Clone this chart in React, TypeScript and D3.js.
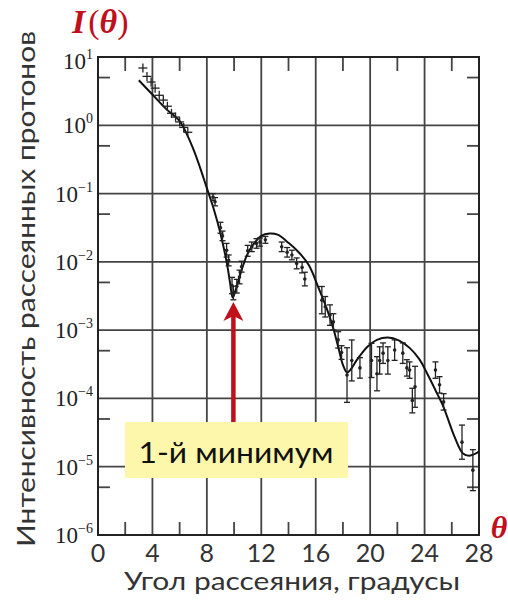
import React from "react";
import * as d3 from "d3";

// theory curve (angle in degrees, intensity)
const curveTheta = [3.0, 4.0, 5.0, 6.0, 6.5, 7.0, 7.5, 8.0, 8.5, 9.0, 9.5, 9.7, 9.9, 10.1, 10.4, 10.7, 11.0, 11.4, 12.0, 12.6, 13.2, 14.0, 14.8, 15.5, 16.2, 16.8, 17.3, 17.7, 18.0, 18.3, 18.6, 19.0, 19.4, 19.8, 20.5, 21.3, 22.1, 22.9, 23.6, 24.2, 24.8, 25.4, 26.2, 26.8, 27.3, 28.0];
const curveI = [4.57, 2.82, 1.74, 1.15, 0.76, 0.45, 0.24, 0.12, 0.06, 0.026, 0.0089, 0.005, 0.003, 0.0038, 0.006, 0.0093, 0.0132, 0.0178, 0.024, 0.026, 0.025, 0.019, 0.0135, 0.0089, 0.0042, 0.0021, 0.00105, 0.00052, 0.00031, 0.00024, 0.00027, 0.00036, 0.00046, 0.00057, 0.00072, 0.00078, 0.00071, 0.00055, 0.00038, 0.00023, 0.000132, 0.000074, 0.0000275, 0.0000158, 0.0000145, 0.0000166];

// small-angle measurements (crosses)
const crossTheta = [3.3, 3.6, 3.9, 4.2, 4.5, 4.8, 5.1, 5.4, 5.7, 6.0, 6.3, 6.6];
const crossI = [6.9, 5.2, 4.3, 3.5, 2.75, 2.34, 1.9, 1.5, 1.32, 1.12, 0.93, 0.79];

// measurements with error bars (err in decades)
const ptTheta = [8.45, 8.6, 9.0, 9.15, 9.45, 9.6, 9.85, 9.95, 10.2, 10.4, 10.55, 11.0, 11.3, 11.65, 11.9, 12.3, 13.5, 13.9, 14.25, 14.6, 15.0, 15.2, 16.45, 16.7, 17.05, 17.3, 17.65, 17.9, 18.3, 18.65, 19.25, 20.1, 20.5, 20.7, 20.95, 21.3, 21.8, 22.4, 22.7, 22.9, 23.1, 23.3, 24.8, 25.1, 25.4, 26.75, 27.55];
const ptI = [0.089, 0.076, 0.0316, 0.024, 0.0148, 0.0105, 0.0045, 0.0035, 0.0044, 0.006, 0.0085, 0.0145, 0.0166, 0.0186, 0.0195, 0.021, 0.0166, 0.0138, 0.0126, 0.0095, 0.0083, 0.0056, 0.00275, 0.0022, 0.00166, 0.00132, 0.00072, 0.00047, 0.00022, 0.00036, 0.00028, 0.00036, 0.00023, 0.00036, 0.00046, 0.00036, 0.00051, 0.00046, 0.00028, 0.00026, 0.000093, 0.000148, 0.00026, 0.000158, 0.000089, 0.0000229, 0.0000089];
const ptErr = [0.05, 0.06, 0.08, 0.07, 0.1, 0.08, 0.12, 0.1, 0.1, 0.1, 0.08, 0.08, 0.07, 0.07, 0.06, 0.05, 0.07, 0.07, 0.07, 0.08, 0.08, 0.1, 0.2, 0.15, 0.15, 0.12, 0.12, 0.1, 0.4, 0.3, 0.15, 0.25, 0.25, 0.2, 0.15, 0.2, 0.15, 0.15, 0.12, 0.12, 0.18, 0.3, 0.12, 0.12, 0.12, 0.25, 0.3];

const xMajor = [0, 4, 8, 12, 16, 20, 24, 28];
const xMinor = [2, 6, 10, 14, 18, 22, 26];
const yMajor = [1e1, 1e0, 1e-1, 1e-2, 1e-3, 1e-4, 1e-5, 1e-6];
const yExp = ["1", "0", "−1", "−2", "−3", "−4", "−5", "−6"];
const yMinor = [5e0, 5e-1, 5e-2, 5e-3, 5e-4, 5e-5, 5e-6];

const minTheta = 9.95;

const W = 508, H = 604;
const L = 98, R = 479, T = 57, B = 535;
const red = "#c0101c";

export default function App() {
  const x = d3.scaleLinear().domain([0, 28]).range([L, R]);
  const y = d3.scaleLog().domain([1e-6, 10]).range([B, T]);

  const line = d3.line<number>()
    .x((d, i) => x(curveTheta[i]))
    .y(d => y(d))
    .curve(d3.curveCatmullRom.alpha(0.5));

  const gridC = "#444";
  const ax = x(minTheta);
  const tipY = y(ptI[7]) + 9;

  return (
    <svg width={W} height={H} style={{position: "absolute", left: 0, top: 0, background: "#fff"}}>
      {/* grid */}
      {xMajor.map(v => <line key={"gx" + v} x1={x(v)} x2={x(v)} y1={T} y2={B} stroke={gridC} strokeWidth={1.8} />)}
      {yMajor.map(v => <line key={"gy" + v} x1={L} x2={R} y1={y(v)} y2={y(v)} stroke={gridC} strokeWidth={1.8} />)}
      {xMinor.map(v => (
        <g key={"mx" + v}>
          <line x1={x(v)} x2={x(v)} y1={T} y2={T + 14} stroke={gridC} strokeWidth={1.8} />
          <line x1={x(v)} x2={x(v)} y1={B} y2={B - 13} stroke={gridC} strokeWidth={1.8} />
        </g>
      ))}
      {yMinor.map(v => (
        <g key={"my" + v}>
          <line x1={L} x2={L + 12} y1={y(v)} y2={y(v)} stroke={gridC} strokeWidth={1.8} />
          <line x1={R} x2={R - 12} y1={y(v)} y2={y(v)} stroke={gridC} strokeWidth={1.8} />
        </g>
      ))}
      <rect x={L} y={T} width={R - L} height={B - T} fill="none" stroke="#222" strokeWidth={2} />

      {/* theory */}
      <path d={line(curveI) || ""} fill="none" stroke="#111" strokeWidth={2} />

      {/* crosses */}
      {crossTheta.map((t, i) => {
        const cx = x(t), cy = y(crossI[i]);
        return (
          <g key={"c" + i} stroke="#222" strokeWidth={1.3}>
            <line x1={cx - 4.5} x2={cx + 4.5} y1={cy} y2={cy} />
            <line x1={cx} x2={cx} y1={cy - 4.5} y2={cy + 4.5} />
          </g>
        );
      })}

      {/* data with error bars */}
      {ptTheta.map((t, i) => {
        const cx = x(t);
        const lo = y(ptI[i] / Math.pow(10, ptErr[i]));
        const hi = y(ptI[i] * Math.pow(10, ptErr[i]));
        return (
          <g key={"p" + i} stroke="#222" strokeWidth={1.3}>
            <line x1={cx} x2={cx} y1={hi} y2={lo} />
            <line x1={cx - 3} x2={cx + 3} y1={hi} y2={hi} />
            <line x1={cx - 3} x2={cx + 3} y1={lo} y2={lo} />
            <circle cx={cx} cy={y(ptI[i])} r={1.8} fill="#222" stroke="none" />
          </g>
        );
      })}

      {/* y tick labels */}
      {yMajor.map((v, i) => (
        <text key={"ly" + v} x={93} y={y(v) + 8 + (i === 0 ? 4 : 0)} textAnchor="end"
              fontFamily="'Liberation Serif', serif" fontSize={23} fill="#222">
          10<tspan dy={-10} fontSize={14}>{yExp[i]}</tspan>
        </text>
      ))}

      {/* x tick labels */}
      {xMajor.map(v => (
        <text key={"lx" + v} x={x(v)} y={562} textAnchor="middle"
              fontFamily="Lato, sans-serif" fontSize={25} fill="#333">{v}</text>
      ))}

      {/* axis titles */}
      <text x={292} y={590} textAnchor="middle" fontFamily="Lato, sans-serif" fontSize={25}
            fill="#333" textLength={336} lengthAdjust="spacingAndGlyphs">Угол рассеяния, градусы</text>
      <text transform="translate(35,289) rotate(-90)" textAnchor="middle" fontFamily="Lato, sans-serif"
            fontSize={25} fill="#333" textLength={516} lengthAdjust="spacingAndGlyphs">Интенсивность рассеянных протонов</text>

      <text x={72} y={33} fontFamily="'Liberation Serif', serif" fontSize={34} fill={red}>
        <tspan fontWeight="bold" fontStyle="italic">I</tspan>
        <tspan dx={3}>(</tspan>
        <tspan fontWeight="bold" fontStyle="italic">θ</tspan>
        <tspan>)</tspan>
      </text>
      <text x={499} y={538} textAnchor="middle" fontFamily="'Liberation Serif', serif" fontSize={32}
            fontWeight="bold" fontStyle="italic" fill={red}>θ</text>

      {/* annotation */}
      <rect x={125} y={422} width={223} height={56} fill="#fcf7ab" />
      <text x={236} y={463} textAnchor="middle" fontFamily="Lato, sans-serif" fontSize={29}
            fill="#111" textLength={195} lengthAdjust="spacingAndGlyphs">1-й минимум</text>
      <line x1={ax} x2={ax} y1={422} y2={tipY + 14} stroke={red} strokeWidth={4.5} />
      <path d={`M${ax},${tipY} L${ax - 10},${tipY + 19} L${ax},${tipY + 14} L${ax + 10},${tipY + 19} Z`} fill={red} />
    </svg>
  );
}
